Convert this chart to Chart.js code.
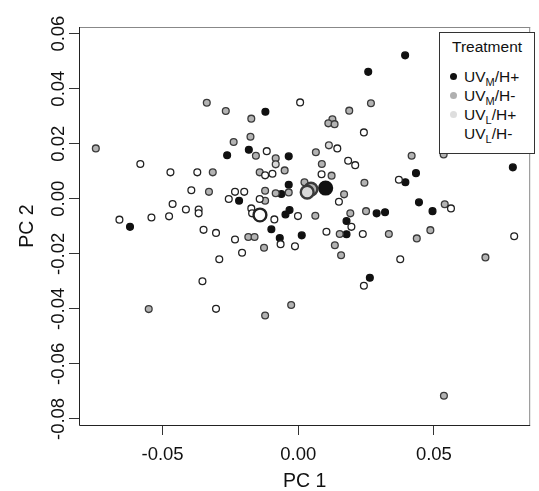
<!DOCTYPE html>
<html lang="en">
<head>
  <meta charset="utf-8" />
  <title>PCA</title>
  <script src="https://cdn.jsdelivr.net/npm/chart.js@4.4.1/dist/chart.umd.min.js"></script>
  <style>
    html, body { margin: 0; padding: 0; background: #fff; }
    #wrap { position: relative; width: 539px; height: 491px; }
    #legend {
      position: absolute; left: 439px; top: 32px; width: 94px; height: 120px;
      border: 1px solid #333; background: #fff;
      font-family: "Liberation Sans", Arial, sans-serif; font-size: 15.5px; color: #111;
    }
    #legend .title { position: absolute; left: 12px; top: 5px; }
    #legend .row { position: absolute; left: 0; height: 19px; line-height: 19px; white-space: nowrap; }
    #legend .dot { position: absolute; left: 10px; top: 6px; width: 7px; height: 7px; border-radius: 50%; }
    #legend .txt { position: absolute; left: 24px; top: 0; }
    #legend sub { font-size: 11px; vertical-align: -4px; line-height: 0; }
  </style>
</head>
<body>
  <div id="wrap">
    <canvas id="myChart" width="539" height="491"></canvas>
    <div id="legend"></div>
  </div>
  <script>
    // treatment groups
    const groupBase = ['UV', 'UV', 'UV', 'UV'];
    const groupSub = ['M', 'M', 'L', 'L'];
    const groupEnd = ['/H+', '/H-', '/H+', '/H-'];

    // PC1 / PC2 scores per group
    const blackX = [-0.0121, -0.0182, -0.0262, -0.0035, -0.0035, -0.0218, -0.0062, -0.0032, -0.0047, -0.0620, -0.0099, -0.0068, 0.0013, 0.0394, 0.0258, 0.0791, 0.0434, 0.0395, 0.0445, 0.0495, 0.0289, 0.0320, 0.0178, 0.0178, 0.0264];
    const blackY = [0.0316, 0.0178, 0.0158, 0.0154, 0.0051, -0.0007, 0.0017, -0.0041, -0.0057, -0.0102, -0.0111, -0.0143, -0.0133, 0.0521, 0.0461, 0.0114, 0.0093, 0.0060, -0.0013, -0.0045, -0.0053, -0.0049, -0.0081, -0.0129, -0.0287];

    const greyX = [-0.0337, -0.0267, -0.0173, -0.0746, -0.0238, -0.0176, -0.0156, -0.0083, -0.0315, -0.0142, -0.0050, 0.0023, -0.0329, -0.0122, -0.0083, -0.0035, -0.0184, -0.0161, -0.0126, -0.0551, -0.0122, -0.0026, 0.0268, 0.0188, 0.0126, 0.0111, 0.0134, 0.0065, 0.0418, 0.0536, 0.0087, 0.0123, 0.0244, 0.0169, 0.0192, 0.0250, 0.0063, 0.0540, 0.0153, 0.0334, 0.0487, 0.0437, 0.0135, 0.0158, 0.0690, 0.0537, -0.0122];
    const greyY = [0.0349, 0.0319, 0.0291, 0.0183, 0.0206, 0.0225, 0.0156, 0.0147, 0.0096, 0.0096, 0.0103, 0.0060, 0.0025, 0.0029, 0.0020, 0.0023, -0.0139, -0.0139, -0.0178, -0.0401, -0.0424, -0.0386, 0.0347, 0.0320, 0.0289, 0.0274, 0.0271, 0.0169, 0.0156, 0.0161, 0.0126, 0.0084, 0.0058, 0.0016, -0.0053, -0.0045, -0.0062, -0.0020, -0.0128, -0.0128, -0.0114, -0.0144, -0.0169, -0.0205, -0.0213, -0.0716, -0.0007];

    const lightX = [-0.0083, 0.0113];
    const lightY = [0.0125, 0.0194];

    const whiteX = [0.0007, -0.0116, -0.0122, -0.0095, -0.0582, -0.0471, -0.0372, -0.0394, -0.0233, -0.0199, -0.0256, -0.0142, -0.0463, -0.0414, -0.0367, -0.0367, -0.0659, -0.0541, -0.0476, -0.0173, -0.0170, -0.0088, -0.0001, -0.0349, -0.0303, -0.0233, -0.0065, -0.0207, -0.0291, -0.0012, -0.0353, -0.0303, 0.0242, 0.0144, 0.0184, 0.0210, 0.0086, 0.0371, 0.0150, 0.0563, 0.0104, 0.0196, 0.0238, 0.0796, 0.0376, 0.0242];
    const whiteY = [0.0350, 0.0173, 0.0085, 0.0091, 0.0126, 0.0096, 0.0096, 0.0031, 0.0025, 0.0025, -0.0001, -0.0001, -0.0019, -0.0039, -0.0039, -0.0053, -0.0076, -0.0068, -0.0064, -0.0035, -0.0053, -0.0075, -0.0063, -0.0113, -0.0124, -0.0148, -0.0165, -0.0196, -0.0220, -0.0173, -0.0300, -0.0400, 0.0241, 0.0183, 0.0138, 0.0122, 0.0089, 0.0069, -0.0011, -0.0035, -0.0120, -0.0102, -0.0128, -0.0136, -0.0220, -0.0316];

    // group centroids, same group order as above
    const centX = [0.0101, 0.0047, 0.0033, -0.0141];
    const centY = [0.0039, 0.0035, 0.0024, -0.0059];

    // axis ticks
    const xTicks = [-0.05, 0.00, 0.05];
    const yTicks = [-0.08, -0.06, -0.04, -0.02, 0.00, 0.02, 0.04, 0.06];

    const fills = ['#111111', '#b3b3b3', '#d9d9d9', '#ffffff'];
    const edges = ['#111111', '#3a3a3a', '#3a3a3a', '#222222'];
    const legendDots = ['#111111', '#b0b0b0', '#dedede', '#ffffff'];

    function pts(xs, ys) {
      return xs.map((x, i) => ({ x: x, y: ys[i] }));
    }

    const groups = [[blackX, blackY], [greyX, greyY], [lightX, lightY], [whiteX, whiteY]];
    const datasets = groups.map((g, i) => ({
      label: groupBase[i] + '_' + groupSub[i] + groupEnd[i],
      data: pts(g[0], g[1]),
      backgroundColor: fills[i],
      borderColor: edges[i],
      borderWidth: 1.3,
      pointRadius: 3.4,
      order: 4 - i
    }));
    datasets.push({
      label: 'centroids',
      data: pts(centX, centY),
      backgroundColor: fills.slice(),
      borderColor: edges.slice(),
      borderWidth: 2.4,
      pointRadius: 6.4,
      order: 0
    });

    const font = '"Liberation Sans", Arial, sans-serif';

    // the box round the plot: left/bottom dark, top/right lighter
    const frame = {
      id: 'frame',
      afterDraw(chart) {
        const a = chart.chartArea, c = chart.ctx;
        c.save();
        c.lineWidth = 1;
        c.strokeStyle = '#888';
        c.beginPath();
        c.moveTo(a.left, a.top + 0.5); c.lineTo(a.right, a.top + 0.5);
        c.moveTo(a.right - 0.5, a.top); c.lineTo(a.right - 0.5, a.bottom);
        c.stroke();
        c.strokeStyle = '#222';
        c.beginPath();
        c.moveTo(a.left + 0.5, a.top); c.lineTo(a.left + 0.5, a.bottom + 0.5);
        c.lineTo(a.right, a.bottom + 0.5);
        c.stroke();
        c.restore();
      }
    };

    const ctx = document.getElementById('myChart').getContext('2d');
    const myChart = new Chart(ctx, {
      type: 'scatter',
      data: { datasets: datasets },
      plugins: [frame],
      options: {
        responsive: false,
        animation: false,
        layout: { padding: { top: 27, right: 1, left: 0, bottom: 0 } },
        plugins: { legend: { display: false }, tooltip: { enabled: false } },
        scales: {
          x: {
            type: 'linear',
            min: -0.0808,
            max: 0.0855,
            afterBuildTicks: s => { s.ticks = xTicks.map(v => ({ value: v })); },
            afterFit: s => { s.height = 66; },
            border: { display: false },
            grid: { drawOnChartArea: false, tickLength: 10, tickColor: '#333', tickWidth: 1 },
            ticks: {
              autoSkip: false, maxRotation: 0, padding: 9, color: '#111',
              font: { family: font, size: 18.5 },
              callback: v => v.toFixed(2)
            },
            title: {
              display: true, text: 'PC 1', color: '#111',
              font: { family: font, size: 19.5, lineHeight: 1 },
              padding: { top: 0, bottom: 0 }
            }
          },
          y: {
            type: 'linear',
            min: -0.0822,
            max: 0.0624,
            afterBuildTicks: s => { s.ticks = yTicks.map(v => ({ value: v })); },
            afterFit: s => { s.width = 79; },
            border: { display: false },
            grid: { drawOnChartArea: false, tickLength: 10, tickColor: '#333', tickWidth: 1 },
            ticks: {
              autoSkip: false, minRotation: 90, maxRotation: 90, crossAlign: 'center',
              padding: -11, color: '#111',
              font: { family: font, size: 18.5 },
              callback: v => v.toFixed(2)
            },
            title: {
              display: true, text: 'PC 2', color: '#111',
              font: { family: font, size: 19.5, lineHeight: 1 },
              padding: { top: 18, bottom: 0 }
            }
          }
        }
      }
    });

    // html legend so the subscripts stay real text
    const legend = document.getElementById('legend');
    let html = '<div class="title">Treatment</div>';
    const rowTops = [34, 53, 72, 91];
    for (let i = 0; i < 4; i++) {
      html += '<div class="row" style="top:' + rowTops[i] + 'px">' +
        '<span class="dot" style="background:' + legendDots[i] + '"></span>' +
        '<span class="txt">' + groupBase[i] + '<sub>' + groupSub[i] + '</sub>' + groupEnd[i] + '</span></div>';
    }
    legend.innerHTML = html;
  </script>
</body>
</html>
